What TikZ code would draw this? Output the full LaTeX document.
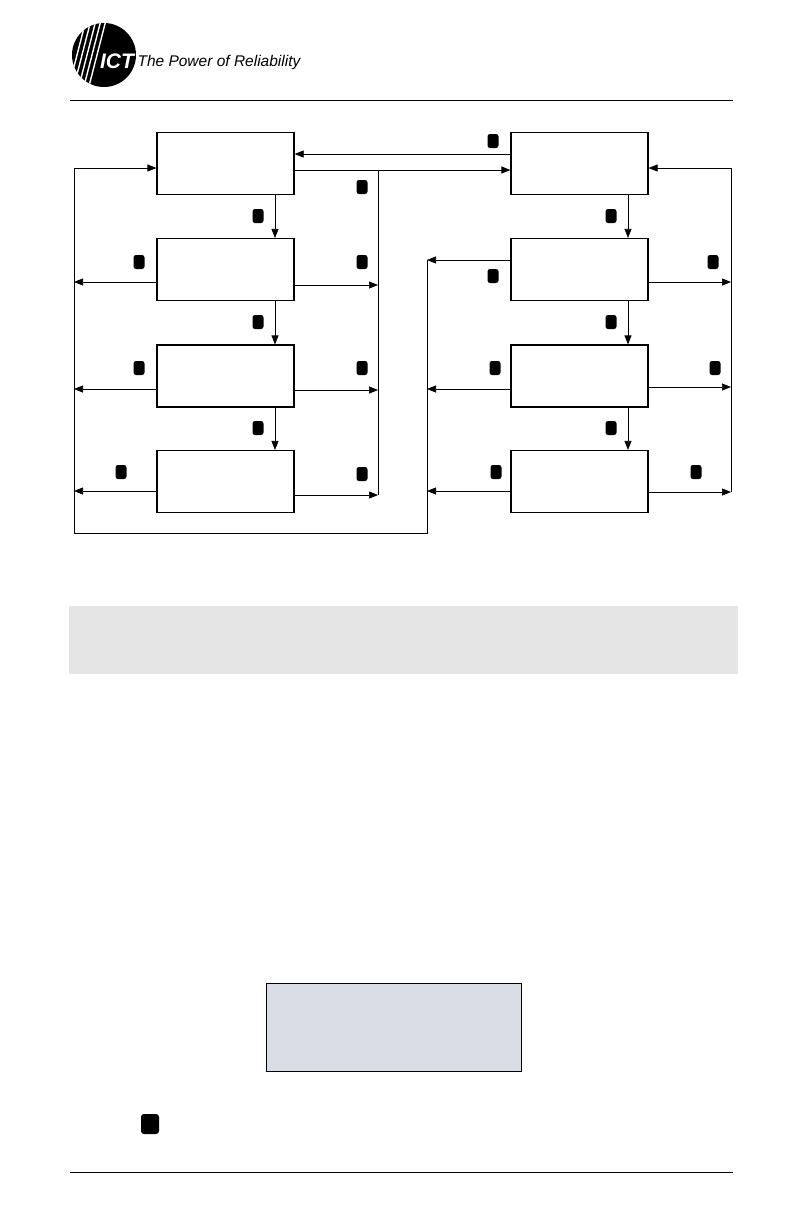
\documentclass[tikz,border=0pt]{standalone}
\usepackage{fontspec}
\setmainfont{Liberation Sans}
\usetikzlibrary{arrows.meta}
\begin{document}
\begin{tikzpicture}[x=1pt,y=-1pt,
  stbox/.style={draw,line width=1.2pt,minimum width=137pt,minimum height=62pt,inner sep=0},
  conn/.style={line width=0.7pt,-{Triangle[length=9pt,width=7pt]}},
  rail/.style={line width=0.7pt},
  mk/.style={fill=black,rounded corners=2.5pt,minimum width=11pt,minimum height=14pt,inner sep=0}]
\useasboundingbox (0,0) rectangle (792,1224);
% header
\fill (104,55) circle (32);
\begin{scope}
\clip (104,55) circle (32);
\foreach \d in {0,5,10,15,20}{\draw[white,line width=1.4pt] (68+\d,90) -- (86+\d,20);}
\end{scope}
\node[white,font=\bfseries\itshape\fontsize{21}{21}\selectfont] (ict) at (117,61) {ICT};
\node[anchor=west,font=\itshape\fontsize{15.5}{17}\selectfont] (tag) at (134,62) {The Power of Reliability};
\draw[line width=0.8pt] (70,100) -- (733,100);
% boxes
\foreach \n/\x in {L/225.5,R/579.5}{
 \foreach \i/\y in {1/163.5,2/269.5,3/376,4/481.5}{
  \node[stbox] (\n\i) at (\x,\y) {};}}
% down arrows
\foreach \a/\b in {1/2,2/3,3/4}{
 \draw[conn] (L\a.south -| 275,0) -- (L\b.north -| 275,0);
 \draw[conn] (R\a.south -| 628,0) -- (R\b.north -| 628,0);}
% coordinates for rails
\coordinate (lrT) at (74,168); \coordinate (lrB) at (74,533);
\coordinate (rrB) at (427,533); \coordinate (rrT) at (427,260);
\coordinate (mrT) at (378,170); \coordinate (mrB) at (378,495);
\coordinate (erT) at (731,168); \coordinate (erB) at (731,492);
\draw[rail] (lrT) -- (lrB) -- (rrB) -- (rrT);
\draw[rail] (mrT) -- (mrB);
\draw[rail] (erT) -- (erB);
\draw[conn] (lrT) -- (L1.west |- lrT);
\draw[conn] (L1.east |- mrT) -- (R1.west |- mrT);
\draw[conn] (R1.west |- 0,154) -- (L1.east |- 0,154);
\draw[conn] (erT) -- (R1.east |- erT);
\foreach \i/\y/\z in {2/282/285,3/389/390,4/491/495}{
 \draw[conn] (L\i.west |- 0,\y) -- (74,\y);
 \draw[conn] (L\i.east |- 0,\z) -- (378,\z);}
\foreach \i/\y/\z in {2/260/282,3/389/387,4/491/492}{
 \draw[conn] (R\i.west |- 0,\y) -- (427,\y);
 \draw[conn] (R\i.east |- 0,\z) -- (731,\z);}
% markers
\foreach \x/\y [count=\k] in {493/141,362/187,258/216,611/216,139/262,362/262,493/276,713/262,258/322,611/322,139/368,362/368,495/368,715/368,258/428,611/428,121/472,362/474,496/472,696/472}{
 \node[mk] (m\k) at (\x,\y) {};}
% grey band
\fill[gray!20] (69,606) rectangle (738,674);
% display box
\node[draw,line width=0.8pt,fill={rgb,255:red,217;green,221;blue,230},minimum width=255pt,minimum height=88pt,inner sep=0] (disp) at (393.5,1027) {};
\draw[line width=1.5pt] (disp.south west) -- (disp.south east);
\node[mk,minimum width=18pt,minimum height=20pt,rounded corners=3pt] (mbig) at (150,1124) {};
\draw[line width=0.8pt] (70,1172) -- (733,1172);
\end{tikzpicture}
\end{document}
